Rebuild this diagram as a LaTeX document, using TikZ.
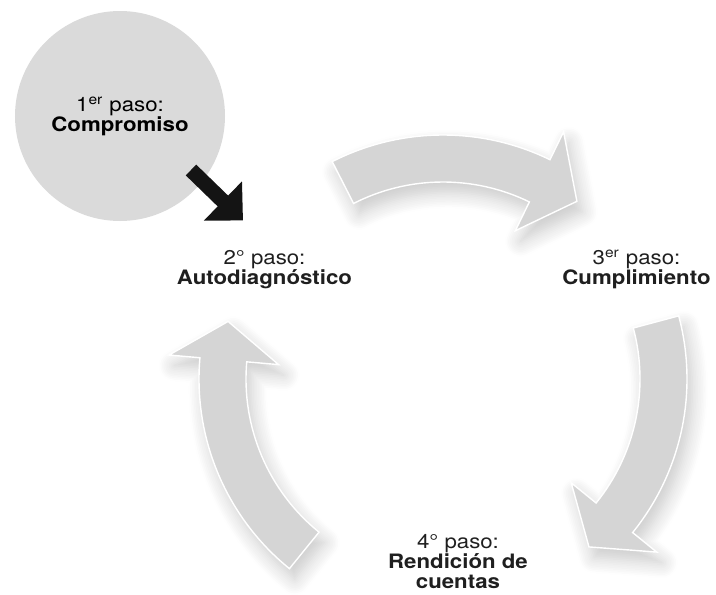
\documentclass[tikz,border=0pt]{standalone}
\usepackage{fontspec}
\setmainfont{TeX Gyre Heros}[FakeStretch=1.12]
\usepackage{tikz}
\usetikzlibrary{positioning,arrows.meta,shadows.blur}

\definecolor{ringgray}{RGB}{213,213,213}
\definecolor{ballgray}{RGB}{218,218,218}

\begin{document}
\begin{tikzpicture}[%
  % common options for the step labels:
  steplabel/.style = {align=center, text=black!88, inner sep=0,
              font=\fontsize{11.3}{11.4}\selectfont},
  % common options for the big circle:
  ball/.style = {circle, fill=ballgray, align=center, inner sep=0,
              minimum size=4.2cm, font=\fontsize{11.3}{11.4}\selectfont},
  % common options for the curved arrows of the cycle:
  cyclearrow/.style = {fill=ringgray, draw=white, line width=0.8pt,
              blur shadow={shadow xshift=3pt, shadow yshift=-6pt,
              shadow blur radius=9pt, shadow blur steps=10, shadow opacity=22}},
  % the black pointer:
  pointer/.style = {draw=black!92, line width=0.3cm,
              -{Triangle[width=1.06cm, length=0.56cm]}}
	]
  \useasboundingbox (0,0) rectangle (14.32,11.88);

  % the cycle, drawn round its centre
  \begin{scope}[shift={(8.86,4.30)}]
    \filldraw[cyclearrow] (117:4.88) arc[start angle=117, end angle=64, radius=4.88]
      -- (64:5.50) -- (53:4.45) -- (64:3.30) -- (64:3.94)
      arc[start angle=64, end angle=117, radius=3.94] -- cycle;
    \filldraw[cyclearrow] (15:4.88) arc[start angle=15, end angle=-39, radius=4.88]
      -- (-39:5.50) -- (-49:4.45) -- (-39:3.30) -- (-39:3.94)
      arc[start angle=-39, end angle=15, radius=3.94] -- cycle;
    \filldraw[cyclearrow] (231:4.88) arc[start angle=231, end angle=175, radius=4.88]
      -- (175:5.50) -- (165:4.45) -- (175:3.30) -- (175:3.94)
      arc[start angle=175, end angle=231, radius=3.94] -- cycle;
  \end{scope}

  \node[ball] (step1) at (2.40,9.56) {1\textsuperscript{er} paso:\\\textbf{Compromiso}};
  \node[steplabel] (step2) at (5.29,6.49) {2° paso:\\\textbf{Autodiagnóstico}};
  \node[steplabel] (step3) at (12.73,6.49) {3\textsuperscript{er} paso:\\\textbf{Cumplimiento}};
  \node[steplabel] (step4) at (9.16,0.64) {4° paso:\\\textbf{Rendición de}\\\textbf{cuentas}};

  \draw[pointer] ([shift={(1.42,-1.08)}]step1.center)
    -- ([shift={(-0.43,0.98)}]step2.center);
\end{tikzpicture}
\end{document}
